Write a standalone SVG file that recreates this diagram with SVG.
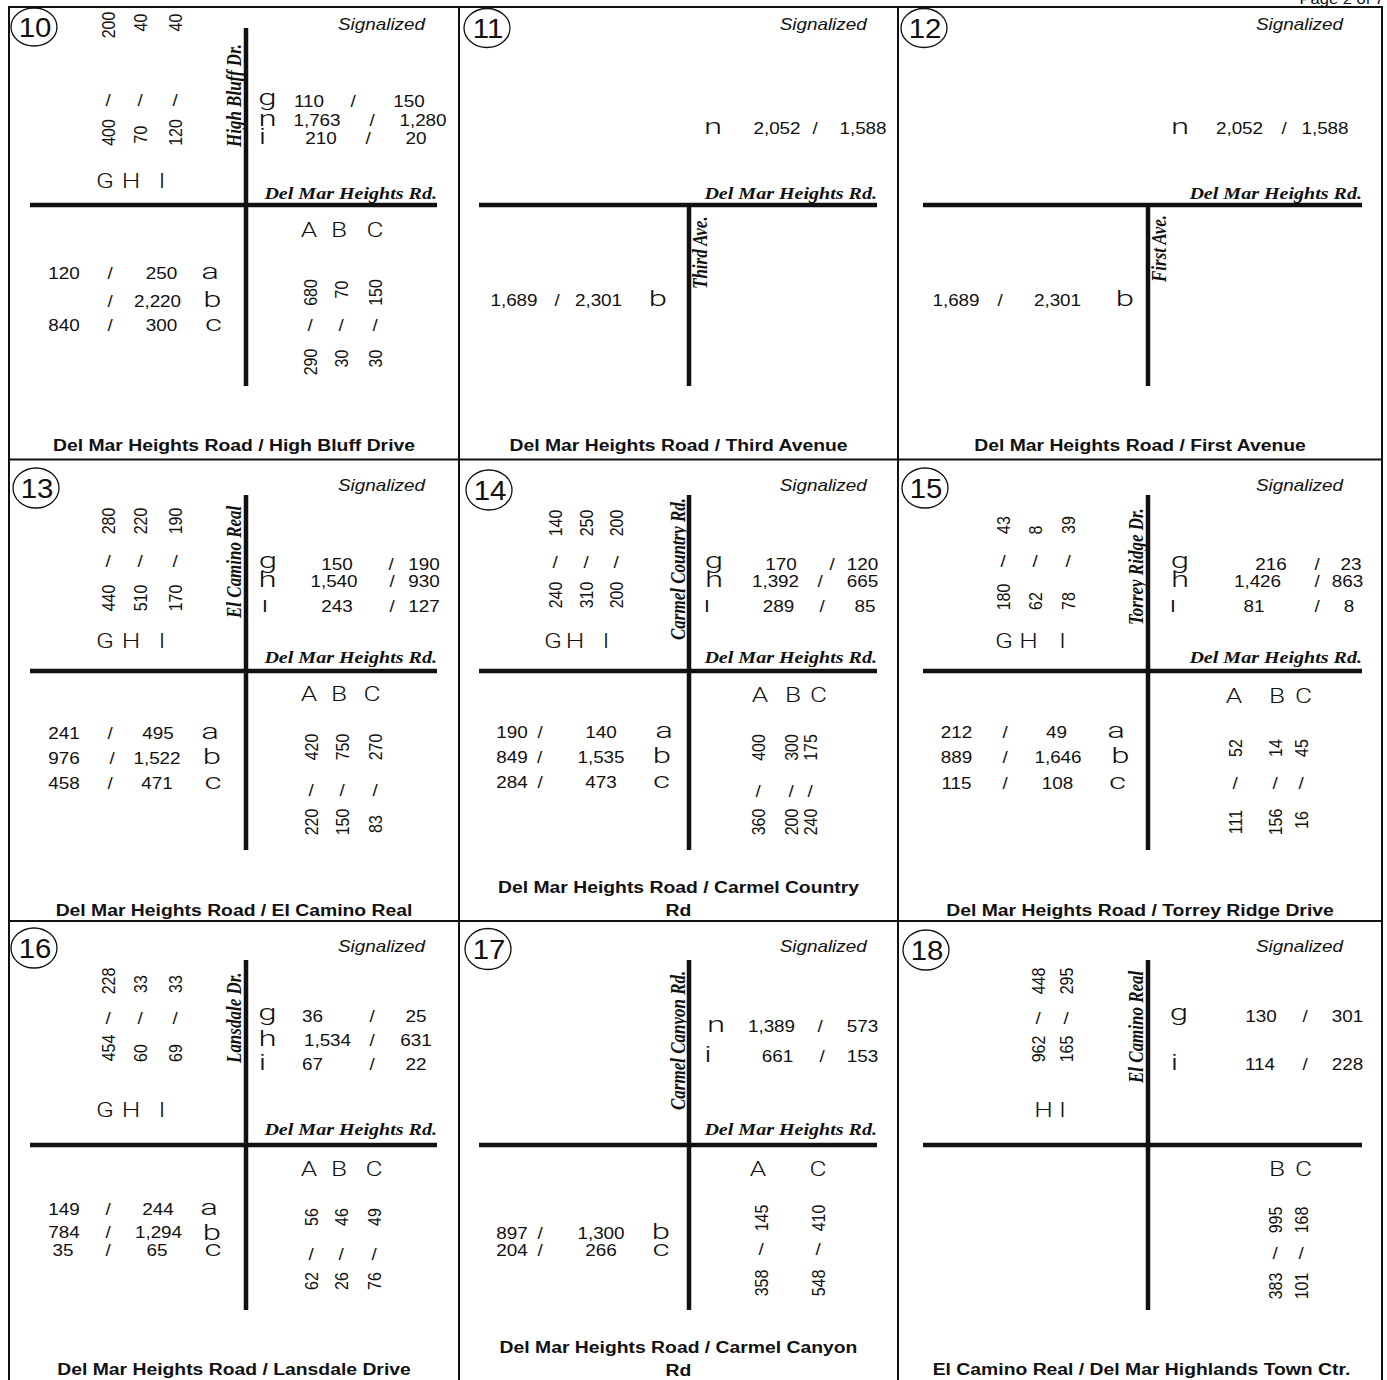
<svg xmlns="http://www.w3.org/2000/svg" width="1387" height="1380" viewBox="0 0 1387 1380">
<style>
text{fill:#111}
.n{font-family:"Liberation Sans",Arial,sans-serif;font-size:16px;text-anchor:middle}
.t{font-family:"Liberation Sans",Arial,sans-serif;font-size:16.4px;font-weight:bold;text-anchor:middle}
.s{font-family:"Liberation Sans",Arial,sans-serif;font-size:16px;font-style:italic;text-anchor:end}
.r{font-family:"Liberation Serif","Times New Roman",serif;font-size:17px;font-weight:bold;font-style:italic}
.re{text-anchor:end}
.C{font-family:Roboto,"Liberation Sans",sans-serif;font-weight:300;font-size:21px;text-anchor:middle}
.l{font-family:Roboto,"Liberation Sans",sans-serif;font-weight:300;font-size:22px;text-anchor:middle}
.id{font-family:"Liberation Sans",Arial,sans-serif;font-size:28px;text-anchor:middle}
.ring{fill:none;stroke:#111;stroke-width:1.3}
.road{stroke:#111;stroke-width:4.5;fill:none}
.frame{stroke:#111;stroke-width:2;fill:none}
</style>
<defs>
<clipPath id="clip18"><rect x="1150" y="1110" width="230" height="40"/></clipPath>
</defs>

<g id="frame">
<rect class="frame" x="9" y="7" width="1373" height="1380"/>
<line class="frame" x1="459" y1="7" x2="459" y2="1380"/>
<line class="frame" x1="898" y1="7" x2="898" y2="1380"/>
<line class="frame" x1="9" y1="459.5" x2="1382" y2="459.5"/>
<line class="frame" x1="9" y1="921" x2="1382" y2="921"/>
<text class="n" style="font-size:14px;text-anchor:end" transform="translate(1384 4) scale(1.18 1)">Page 2 of 7</text>
</g>

<!-- Panel 10 -->
<g id="p10">
<ellipse class="ring" cx="34" cy="27" rx="23" ry="19"/>
<text class="id" transform="translate(35 37) scale(1.05 1)">10</text>
<text class="s" transform="translate(425 30) scale(1.18 1)">Signalized</text>
<line class="road" x1="30" y1="205" x2="437" y2="205"/>
<line class="road" x1="246" y1="28" x2="246" y2="386"/>
<text class="r" transform="translate(241 147) scale(1.18 1) rotate(-90)">High Bluff Dr.</text>
<text class="r re" transform="translate(437 199) scale(1.18 1)">Del Mar Heights Rd.</text>
<text class="n" transform="translate(115 25) scale(1.18 1) rotate(-90)">200</text>
<text class="n" transform="translate(108 106) scale(1.18 1)">/</text>
<text class="n" transform="translate(115 132.5) scale(1.18 1) rotate(-90)">400</text>
<text class="n" transform="translate(147 22.5) scale(1.18 1) rotate(-90)">40</text>
<text class="n" transform="translate(140 106) scale(1.18 1)">/</text>
<text class="n" transform="translate(147 134.5) scale(1.18 1) rotate(-90)">70</text>
<text class="n" transform="translate(182 22.5) scale(1.18 1) rotate(-90)">40</text>
<text class="n" transform="translate(175 106) scale(1.18 1)">/</text>
<text class="n" transform="translate(182 132.5) scale(1.18 1) rotate(-90)">120</text>
<text class="C" transform="translate(105 188) scale(1.25 1)">G</text>
<text class="C" transform="translate(131 188) scale(1.25 1)">H</text>
<text class="C" transform="translate(162 188) scale(1.25 1)">I</text>
<text class="l" transform="translate(267.5 105) scale(1.5 1)">g</text>
<text class="n" transform="translate(309 107) scale(1.18 1)">110</text>
<text class="n" transform="translate(353 107) scale(1.18 1)">/</text>
<text class="n" transform="translate(409 107) scale(1.18 1)">150</text>
<text class="l" transform="translate(267.5 126) scale(1.5 1)">n</text>
<text class="n" transform="translate(317 126) scale(1.18 1)">1,763</text>
<text class="n" transform="translate(372 126) scale(1.18 1)">/</text>
<text class="n" transform="translate(423 126) scale(1.18 1)">1,280</text>
<text class="l" transform="translate(262.5 144) scale(1.5 1)">i</text>
<text class="n" transform="translate(321 144) scale(1.18 1)">210</text>
<text class="n" transform="translate(368 144) scale(1.18 1)">/</text>
<text class="n" transform="translate(416 144) scale(1.18 1)">20</text>
<text class="n" transform="translate(64 279) scale(1.18 1)">120</text>
<text class="n" transform="translate(110 279) scale(1.18 1)">/</text>
<text class="n" transform="translate(161.5 279) scale(1.18 1)">250</text>
<text class="l" transform="translate(210 279) scale(1.5 1)">a</text>
<text class="n" transform="translate(110 307) scale(1.18 1)">/</text>
<text class="n" transform="translate(157.5 307) scale(1.18 1)">2,220</text>
<text class="l" transform="translate(212.5 307) scale(1.5 1)">b</text>
<text class="n" transform="translate(64 331) scale(1.18 1)">840</text>
<text class="n" transform="translate(110 331) scale(1.18 1)">/</text>
<text class="n" transform="translate(161.5 331) scale(1.18 1)">300</text>
<text class="l" transform="translate(213.5 331) scale(1.5 1)">c</text>
<text class="C" transform="translate(309 237) scale(1.25 1)">A</text>
<text class="C" transform="translate(339 237) scale(1.25 1)">B</text>
<text class="C" transform="translate(375 237) scale(1.25 1)">C</text>
<text class="n" transform="translate(317 292.5) scale(1.18 1) rotate(-90)">680</text>
<text class="n" transform="translate(310 331) scale(1.18 1)">/</text>
<text class="n" transform="translate(317 362) scale(1.18 1) rotate(-90)">290</text>
<text class="n" transform="translate(348 289.5) scale(1.18 1) rotate(-90)">70</text>
<text class="n" transform="translate(341 331) scale(1.18 1)">/</text>
<text class="n" transform="translate(348 358.5) scale(1.18 1) rotate(-90)">30</text>
<text class="n" transform="translate(382 292.5) scale(1.18 1) rotate(-90)">150</text>
<text class="n" transform="translate(375 331) scale(1.18 1)">/</text>
<text class="n" transform="translate(382 358.5) scale(1.18 1) rotate(-90)">30</text>
<text class="t" transform="translate(234 451) scale(1.18 1)">Del Mar Heights Road / High Bluff Drive</text>
</g>

<!-- Panel 11 -->
<g id="p11">
<ellipse class="ring" cx="487" cy="28" rx="23" ry="19.5"/>
<text class="id" transform="translate(488 38) scale(1.05 1)">11</text>
<text class="s" transform="translate(866.7 30) scale(1.18 1)">Signalized</text>
<line class="road" x1="479" y1="205" x2="877" y2="205"/>
<line class="road" x1="689" y1="205" x2="689" y2="386"/>
<text class="r" transform="translate(707 289) scale(1.18 1) rotate(-90)">Third Ave.</text>
<text class="r re" transform="translate(877 199) scale(1.18 1)">Del Mar Heights Rd.</text>
<text class="l" transform="translate(713 134) scale(1.5 1)">n</text>
<text class="n" transform="translate(777 134) scale(1.18 1)">2,052</text>
<text class="n" transform="translate(815 134) scale(1.18 1)">/</text>
<text class="n" transform="translate(863 134) scale(1.18 1)">1,588</text>
<text class="n" transform="translate(514 306) scale(1.18 1)">1,689</text>
<text class="n" transform="translate(557 306) scale(1.18 1)">/</text>
<text class="n" transform="translate(598.5 306) scale(1.18 1)">2,301</text>
<text class="l" transform="translate(658 306) scale(1.5 1)">b</text>
<text class="t" transform="translate(678.5 451) scale(1.18 1)">Del Mar Heights Road / Third Avenue</text>
</g>

<!-- Panel 12 -->
<g id="p12">
<ellipse class="ring" cx="924" cy="28" rx="23" ry="19.5"/>
<text class="id" transform="translate(925 38) scale(1.05 1)">12</text>
<text class="s" transform="translate(1343 30) scale(1.18 1)">Signalized</text>
<line class="road" x1="923" y1="205" x2="1362" y2="205"/>
<line class="road" x1="1148" y1="205" x2="1148" y2="386"/>
<text class="r" transform="translate(1166 282) scale(1.18 1) rotate(-90)">First Ave.</text>
<text class="r re" transform="translate(1362 199) scale(1.18 1)">Del Mar Heights Rd.</text>
<text class="l" transform="translate(1180 134) scale(1.5 1)">n</text>
<text class="n" transform="translate(1239.5 134) scale(1.18 1)">2,052</text>
<text class="n" transform="translate(1284 134) scale(1.18 1)">/</text>
<text class="n" transform="translate(1325 134) scale(1.18 1)">1,588</text>
<text class="n" transform="translate(956 306) scale(1.18 1)">1,689</text>
<text class="n" transform="translate(1000 306) scale(1.18 1)">/</text>
<text class="n" transform="translate(1057.5 306) scale(1.18 1)">2,301</text>
<text class="l" transform="translate(1125 306) scale(1.5 1)">b</text>
<text class="t" transform="translate(1140 451) scale(1.18 1)">Del Mar Heights Road / First Avenue</text>
</g>

<!-- Panel 13 -->
<g id="p13">
<ellipse class="ring" cx="36" cy="488" rx="23" ry="20"/>
<text class="id" transform="translate(37 498) scale(1.05 1)">13</text>
<text class="s" transform="translate(425 491) scale(1.18 1)">Signalized</text>
<line class="road" x1="30" y1="671" x2="437" y2="671"/>
<line class="road" x1="246" y1="495" x2="246" y2="850"/>
<text class="r" transform="translate(241 618) scale(1.18 1) rotate(-90)">El Camino Real</text>
<text class="r re" transform="translate(437 663) scale(1.18 1)">Del Mar Heights Rd.</text>
<text class="n" transform="translate(115 521) scale(1.18 1) rotate(-90)">280</text>
<text class="n" transform="translate(108 567) scale(1.18 1)">/</text>
<text class="n" transform="translate(115 598) scale(1.18 1) rotate(-90)">440</text>
<text class="n" transform="translate(147 521) scale(1.18 1) rotate(-90)">220</text>
<text class="n" transform="translate(140 567) scale(1.18 1)">/</text>
<text class="n" transform="translate(147 598) scale(1.18 1) rotate(-90)">510</text>
<text class="n" transform="translate(182 521) scale(1.18 1) rotate(-90)">190</text>
<text class="n" transform="translate(175 567) scale(1.18 1)">/</text>
<text class="n" transform="translate(182 598) scale(1.18 1) rotate(-90)">170</text>
<text class="C" transform="translate(105 648) scale(1.25 1)">G</text>
<text class="C" transform="translate(131 648) scale(1.25 1)">H</text>
<text class="C" transform="translate(162 648) scale(1.25 1)">I</text>
<text class="l" transform="translate(268 568) scale(1.5 1)">g</text>
<text class="n" transform="translate(337 570) scale(1.18 1)">150</text>
<text class="n" transform="translate(391 570) scale(1.18 1)">/</text>
<text class="n" transform="translate(424 570) scale(1.18 1)">190</text>
<text class="l" transform="translate(267.5 587) scale(1.5 1)">h</text>
<text class="n" transform="translate(334 587) scale(1.18 1)">1,540</text>
<text class="n" transform="translate(392 587) scale(1.18 1)">/</text>
<text class="n" transform="translate(424 587) scale(1.18 1)">930</text>
<text class="l" transform="translate(265 612) scale(1.5 1)">ı</text>
<text class="n" transform="translate(337 612) scale(1.18 1)">243</text>
<text class="n" transform="translate(392 612) scale(1.18 1)">/</text>
<text class="n" transform="translate(424 612) scale(1.18 1)">127</text>
<text class="n" transform="translate(64 739) scale(1.18 1)">241</text>
<text class="n" transform="translate(110 739) scale(1.18 1)">/</text>
<text class="n" transform="translate(158 739) scale(1.18 1)">495</text>
<text class="l" transform="translate(210 739) scale(1.5 1)">a</text>
<text class="n" transform="translate(64 764) scale(1.18 1)">976</text>
<text class="n" transform="translate(112 764) scale(1.18 1)">/</text>
<text class="n" transform="translate(157 764) scale(1.18 1)">1,522</text>
<text class="l" transform="translate(212 764) scale(1.5 1)">b</text>
<text class="n" transform="translate(64 789) scale(1.18 1)">458</text>
<text class="n" transform="translate(110 789) scale(1.18 1)">/</text>
<text class="n" transform="translate(157 789) scale(1.18 1)">471</text>
<text class="l" transform="translate(213 789) scale(1.5 1)">c</text>
<text class="C" transform="translate(309 701) scale(1.25 1)">A</text>
<text class="C" transform="translate(339 701) scale(1.25 1)">B</text>
<text class="C" transform="translate(372 701) scale(1.25 1)">C</text>
<text class="n" transform="translate(318 747) scale(1.18 1) rotate(-90)">420</text>
<text class="n" transform="translate(311 796) scale(1.18 1)">/</text>
<text class="n" transform="translate(318 822) scale(1.18 1) rotate(-90)">220</text>
<text class="n" transform="translate(349 747) scale(1.18 1) rotate(-90)">750</text>
<text class="n" transform="translate(342 796) scale(1.18 1)">/</text>
<text class="n" transform="translate(349 822) scale(1.18 1) rotate(-90)">150</text>
<text class="n" transform="translate(382 747) scale(1.18 1) rotate(-90)">270</text>
<text class="n" transform="translate(375 796) scale(1.18 1)">/</text>
<text class="n" transform="translate(382 824) scale(1.18 1) rotate(-90)">83</text>
<text class="t" transform="translate(234 916) scale(1.18 1)">Del Mar Heights Road / El Camino Real</text>
</g>

<!-- Panel 14 -->
<g id="p14">
<ellipse class="ring" cx="489" cy="490" rx="23" ry="20"/>
<text class="id" transform="translate(490 500) scale(1.05 1)">14</text>
<text class="s" transform="translate(866.7 491) scale(1.18 1)">Signalized</text>
<line class="road" x1="479" y1="671" x2="877" y2="671"/>
<line class="road" x1="689" y1="495" x2="689" y2="850"/>
<text class="r" transform="translate(685 640) scale(1.18 1) rotate(-90)">Carmel Country Rd.</text>
<text class="r re" transform="translate(877 663) scale(1.18 1)">Del Mar Heights Rd.</text>
<text class="n" transform="translate(562 523) scale(1.18 1) rotate(-90)">140</text>
<text class="n" transform="translate(555 567.5) scale(1.18 1)">/</text>
<text class="n" transform="translate(562 595) scale(1.18 1) rotate(-90)">240</text>
<text class="n" transform="translate(593 523) scale(1.18 1) rotate(-90)">250</text>
<text class="n" transform="translate(586 567.5) scale(1.18 1)">/</text>
<text class="n" transform="translate(593 595) scale(1.18 1) rotate(-90)">310</text>
<text class="n" transform="translate(623 523) scale(1.18 1) rotate(-90)">200</text>
<text class="n" transform="translate(616 567.5) scale(1.18 1)">/</text>
<text class="n" transform="translate(623 595) scale(1.18 1) rotate(-90)">200</text>
<text class="C" transform="translate(553 648) scale(1.25 1)">G</text>
<text class="C" transform="translate(575 648) scale(1.25 1)">H</text>
<text class="C" transform="translate(606 648) scale(1.25 1)">I</text>
<text class="l" transform="translate(714 568) scale(1.5 1)">g</text>
<text class="n" transform="translate(781 570) scale(1.18 1)">170</text>
<text class="n" transform="translate(832 570) scale(1.18 1)">/</text>
<text class="n" transform="translate(862.5 570) scale(1.18 1)">120</text>
<text class="l" transform="translate(714 587) scale(1.5 1)">h</text>
<text class="n" transform="translate(775.5 587) scale(1.18 1)">1,392</text>
<text class="n" transform="translate(820 587) scale(1.18 1)">/</text>
<text class="n" transform="translate(862.5 587) scale(1.18 1)">665</text>
<text class="l" transform="translate(707 612) scale(1.5 1)">ı</text>
<text class="n" transform="translate(778.5 612) scale(1.18 1)">289</text>
<text class="n" transform="translate(822 612) scale(1.18 1)">/</text>
<text class="n" transform="translate(865 612) scale(1.18 1)">85</text>
<text class="n" transform="translate(512 738) scale(1.18 1)">190</text>
<text class="n" transform="translate(540 738) scale(1.18 1)">/</text>
<text class="n" transform="translate(601 738) scale(1.18 1)">140</text>
<text class="l" transform="translate(664 738) scale(1.5 1)">a</text>
<text class="n" transform="translate(512 763) scale(1.18 1)">849</text>
<text class="n" transform="translate(539.5 763) scale(1.18 1)">/</text>
<text class="n" transform="translate(601 763) scale(1.18 1)">1,535</text>
<text class="l" transform="translate(662 763) scale(1.5 1)">b</text>
<text class="n" transform="translate(512 788) scale(1.18 1)">284</text>
<text class="n" transform="translate(540 788) scale(1.18 1)">/</text>
<text class="n" transform="translate(601 788) scale(1.18 1)">473</text>
<text class="l" transform="translate(661.5 788) scale(1.5 1)">c</text>
<text class="C" transform="translate(760 702) scale(1.25 1)">A</text>
<text class="C" transform="translate(793 702) scale(1.25 1)">B</text>
<text class="C" transform="translate(818.5 702) scale(1.25 1)">C</text>
<text class="n" transform="translate(765 747.5) scale(1.18 1) rotate(-90)">400</text>
<text class="n" transform="translate(758 796.5) scale(1.18 1)">/</text>
<text class="n" transform="translate(765 822) scale(1.18 1) rotate(-90)">360</text>
<text class="n" transform="translate(798 747.5) scale(1.18 1) rotate(-90)">300</text>
<text class="n" transform="translate(791 796.5) scale(1.18 1)">/</text>
<text class="n" transform="translate(798 822) scale(1.18 1) rotate(-90)">200</text>
<text class="n" transform="translate(817 747.5) scale(1.18 1) rotate(-90)">175</text>
<text class="n" transform="translate(810 796.5) scale(1.18 1)">/</text>
<text class="n" transform="translate(817 822) scale(1.18 1) rotate(-90)">240</text>
<text class="t" transform="translate(678.5 893) scale(1.18 1)">Del Mar Heights Road / Carmel Country</text>
<text class="t" transform="translate(678.5 916) scale(1.18 1)">Rd</text>
</g>

<!-- Panel 15 -->
<g id="p15">
<ellipse class="ring" cx="925" cy="488" rx="23" ry="20"/>
<text class="id" transform="translate(926 498) scale(1.05 1)">15</text>
<text class="s" transform="translate(1343 491) scale(1.18 1)">Signalized</text>
<line class="road" x1="923" y1="671" x2="1362" y2="671"/>
<line class="road" x1="1148" y1="495" x2="1148" y2="850"/>
<text class="r" transform="translate(1143 625) scale(1.18 1) rotate(-90)">Torrey Ridge Dr.</text>
<text class="r re" transform="translate(1362 663) scale(1.18 1)">Del Mar Heights Rd.</text>
<text class="n" transform="translate(1010 525) scale(1.18 1) rotate(-90)">43</text>
<text class="n" transform="translate(1003 567) scale(1.18 1)">/</text>
<text class="n" transform="translate(1010 597) scale(1.18 1) rotate(-90)">180</text>
<text class="n" transform="translate(1042 530) scale(1.18 1) rotate(-90)">8</text>
<text class="n" transform="translate(1035 567) scale(1.18 1)">/</text>
<text class="n" transform="translate(1042 601) scale(1.18 1) rotate(-90)">62</text>
<text class="n" transform="translate(1075 525) scale(1.18 1) rotate(-90)">39</text>
<text class="n" transform="translate(1068 567) scale(1.18 1)">/</text>
<text class="n" transform="translate(1075 601) scale(1.18 1) rotate(-90)">78</text>
<text class="C" transform="translate(1004 648) scale(1.25 1)">G</text>
<text class="C" transform="translate(1028.5 648) scale(1.25 1)">H</text>
<text class="C" transform="translate(1062.5 648) scale(1.25 1)">I</text>
<text class="l" transform="translate(1180 568) scale(1.5 1)">g</text>
<text class="n" transform="translate(1271 570) scale(1.18 1)">216</text>
<text class="n" transform="translate(1317 570) scale(1.18 1)">/</text>
<text class="n" transform="translate(1351 570) scale(1.18 1)">23</text>
<text class="l" transform="translate(1180 587) scale(1.5 1)">h</text>
<text class="n" transform="translate(1257.5 587) scale(1.18 1)">1,426</text>
<text class="n" transform="translate(1317 587) scale(1.18 1)">/</text>
<text class="n" transform="translate(1347.5 587) scale(1.18 1)">863</text>
<text class="l" transform="translate(1173 612) scale(1.5 1)">ı</text>
<text class="n" transform="translate(1254 612) scale(1.18 1)">81</text>
<text class="n" transform="translate(1317 612) scale(1.18 1)">/</text>
<text class="n" transform="translate(1349 612) scale(1.18 1)">8</text>
<text class="n" transform="translate(956.5 738) scale(1.18 1)">212</text>
<text class="n" transform="translate(1005 738) scale(1.18 1)">/</text>
<text class="n" transform="translate(1056.5 738) scale(1.18 1)">49</text>
<text class="l" transform="translate(1116 738) scale(1.5 1)">a</text>
<text class="n" transform="translate(956.5 763) scale(1.18 1)">889</text>
<text class="n" transform="translate(1005 763) scale(1.18 1)">/</text>
<text class="n" transform="translate(1058 763) scale(1.18 1)">1,646</text>
<text class="l" transform="translate(1120.5 763) scale(1.5 1)">b</text>
<text class="n" transform="translate(956.5 789) scale(1.18 1)">115</text>
<text class="n" transform="translate(1005 789) scale(1.18 1)">/</text>
<text class="n" transform="translate(1057.5 789) scale(1.18 1)">108</text>
<text class="l" transform="translate(1117.5 789) scale(1.5 1)">c</text>
<text class="C" transform="translate(1234 703) scale(1.25 1)">A</text>
<text class="C" transform="translate(1277 703) scale(1.25 1)">B</text>
<text class="C" transform="translate(1303.5 703) scale(1.25 1)">C</text>
<text class="n" transform="translate(1242 748) scale(1.18 1) rotate(-90)">52</text>
<text class="n" transform="translate(1235 788.5) scale(1.18 1)">/</text>
<text class="n" transform="translate(1242 822) scale(1.18 1) rotate(-90)">111</text>
<text class="n" transform="translate(1282 748) scale(1.18 1) rotate(-90)">14</text>
<text class="n" transform="translate(1275 788.5) scale(1.18 1)">/</text>
<text class="n" transform="translate(1282 822) scale(1.18 1) rotate(-90)">156</text>
<text class="n" transform="translate(1308 748) scale(1.18 1) rotate(-90)">45</text>
<text class="n" transform="translate(1301 788.5) scale(1.18 1)">/</text>
<text class="n" transform="translate(1308 820) scale(1.18 1) rotate(-90)">16</text>
<text class="t" transform="translate(1140 916) scale(1.18 1)">Del Mar Heights Road / Torrey Ridge Drive</text>
</g>

<!-- Panel 16 -->
<g id="p16">
<ellipse class="ring" cx="34" cy="948" rx="23" ry="20"/>
<text class="id" transform="translate(35 958) scale(1.05 1)">16</text>
<text class="s" transform="translate(425 952) scale(1.18 1)">Signalized</text>
<line class="road" x1="30" y1="1145" x2="437" y2="1145"/>
<line class="road" x1="246" y1="960" x2="246" y2="1310"/>
<text class="r" transform="translate(241 1063) scale(1.18 1) rotate(-90)">Lansdale Dr.</text>
<text class="r re" transform="translate(437 1135) scale(1.18 1)">Del Mar Heights Rd.</text>
<text class="n" transform="translate(115 981) scale(1.18 1) rotate(-90)">228</text>
<text class="n" transform="translate(108 1024) scale(1.18 1)">/</text>
<text class="n" transform="translate(115 1048) scale(1.18 1) rotate(-90)">454</text>
<text class="n" transform="translate(147 984) scale(1.18 1) rotate(-90)">33</text>
<text class="n" transform="translate(140 1024) scale(1.18 1)">/</text>
<text class="n" transform="translate(147 1053) scale(1.18 1) rotate(-90)">60</text>
<text class="n" transform="translate(182 984) scale(1.18 1) rotate(-90)">33</text>
<text class="n" transform="translate(175 1024) scale(1.18 1)">/</text>
<text class="n" transform="translate(182 1053) scale(1.18 1) rotate(-90)">69</text>
<text class="C" transform="translate(105 1117) scale(1.25 1)">G</text>
<text class="C" transform="translate(131 1117) scale(1.25 1)">H</text>
<text class="C" transform="translate(162 1117) scale(1.25 1)">I</text>
<text class="l" transform="translate(267.5 1020) scale(1.5 1)">g</text>
<text class="n" transform="translate(312.5 1022) scale(1.18 1)">36</text>
<text class="n" transform="translate(372 1022) scale(1.18 1)">/</text>
<text class="n" transform="translate(416 1022) scale(1.18 1)">25</text>
<text class="l" transform="translate(267.5 1046) scale(1.5 1)">h</text>
<text class="n" transform="translate(327.5 1046) scale(1.18 1)">1,534</text>
<text class="n" transform="translate(372 1046) scale(1.18 1)">/</text>
<text class="n" transform="translate(416 1046) scale(1.18 1)">631</text>
<text class="l" transform="translate(262.5 1070) scale(1.5 1)">i</text>
<text class="n" transform="translate(312.5 1070) scale(1.18 1)">67</text>
<text class="n" transform="translate(372 1070) scale(1.18 1)">/</text>
<text class="n" transform="translate(416 1070) scale(1.18 1)">22</text>
<text class="n" transform="translate(64 1215) scale(1.18 1)">149</text>
<text class="n" transform="translate(108 1215) scale(1.18 1)">/</text>
<text class="n" transform="translate(158 1215) scale(1.18 1)">244</text>
<text class="l" transform="translate(209 1215) scale(1.5 1)">a</text>
<text class="n" transform="translate(64 1238) scale(1.18 1)">784</text>
<text class="n" transform="translate(108 1238) scale(1.18 1)">/</text>
<text class="n" transform="translate(158.5 1238) scale(1.18 1)">1,294</text>
<text class="l" transform="translate(212 1240) scale(1.5 1)">b</text>
<text class="n" transform="translate(63 1256) scale(1.18 1)">35</text>
<text class="n" transform="translate(108 1256) scale(1.18 1)">/</text>
<text class="n" transform="translate(157 1256) scale(1.18 1)">65</text>
<text class="l" transform="translate(213 1256) scale(1.5 1)">c</text>
<text class="C" transform="translate(309 1176) scale(1.25 1)">A</text>
<text class="C" transform="translate(339 1176) scale(1.25 1)">B</text>
<text class="C" transform="translate(374 1176) scale(1.25 1)">C</text>
<text class="n" transform="translate(318 1217) scale(1.18 1) rotate(-90)">56</text>
<text class="n" transform="translate(311 1260) scale(1.18 1)">/</text>
<text class="n" transform="translate(318 1281) scale(1.18 1) rotate(-90)">62</text>
<text class="n" transform="translate(348 1217) scale(1.18 1) rotate(-90)">46</text>
<text class="n" transform="translate(341 1260) scale(1.18 1)">/</text>
<text class="n" transform="translate(348 1281) scale(1.18 1) rotate(-90)">26</text>
<text class="n" transform="translate(381 1217) scale(1.18 1) rotate(-90)">49</text>
<text class="n" transform="translate(374 1260) scale(1.18 1)">/</text>
<text class="n" transform="translate(381 1281) scale(1.18 1) rotate(-90)">76</text>
<text class="t" transform="translate(234 1375) scale(1.18 1)">Del Mar Heights Road / Lansdale Drive</text>
</g>

<!-- Panel 17 -->
<g id="p17">
<ellipse class="ring" cx="488" cy="949" rx="23" ry="20.5"/>
<text class="id" transform="translate(489 959) scale(1.05 1)">17</text>
<text class="s" transform="translate(866.7 952) scale(1.18 1)">Signalized</text>
<line class="road" x1="479" y1="1145" x2="877" y2="1145"/>
<line class="road" x1="689" y1="960" x2="689" y2="1310"/>
<text class="r" transform="translate(685 1110) scale(1.18 1) rotate(-90)">Carmel Canyon Rd.</text>
<text class="r re" transform="translate(877 1135) scale(1.18 1)">Del Mar Heights Rd.</text>
<text class="l" transform="translate(716 1032) scale(1.5 1)">n</text>
<text class="n" transform="translate(771.5 1032) scale(1.18 1)">1,389</text>
<text class="n" transform="translate(820 1032) scale(1.18 1)">/</text>
<text class="n" transform="translate(862.5 1032) scale(1.18 1)">573</text>
<text class="l" transform="translate(708 1062) scale(1.5 1)">i</text>
<text class="n" transform="translate(777.5 1062) scale(1.18 1)">661</text>
<text class="n" transform="translate(822 1062) scale(1.18 1)">/</text>
<text class="n" transform="translate(862.5 1062) scale(1.18 1)">153</text>
<text class="n" transform="translate(512 1239) scale(1.18 1)">897</text>
<text class="n" transform="translate(540 1239) scale(1.18 1)">/</text>
<text class="n" transform="translate(601 1239) scale(1.18 1)">1,300</text>
<text class="l" transform="translate(661 1239) scale(1.5 1)">b</text>
<text class="n" transform="translate(512 1256) scale(1.18 1)">204</text>
<text class="n" transform="translate(540 1256) scale(1.18 1)">/</text>
<text class="n" transform="translate(601 1256) scale(1.18 1)">266</text>
<text class="l" transform="translate(661 1256) scale(1.5 1)">c</text>
<text class="C" transform="translate(758 1176) scale(1.25 1)">A</text>
<text class="C" transform="translate(818 1176) scale(1.25 1)">C</text>
<text class="n" transform="translate(768 1218) scale(1.18 1) rotate(-90)">145</text>
<text class="n" transform="translate(761 1255) scale(1.18 1)">/</text>
<text class="n" transform="translate(768 1283) scale(1.18 1) rotate(-90)">358</text>
<text class="n" transform="translate(825 1218) scale(1.18 1) rotate(-90)">410</text>
<text class="n" transform="translate(818 1255) scale(1.18 1)">/</text>
<text class="n" transform="translate(825 1283) scale(1.18 1) rotate(-90)">548</text>
<text class="t" transform="translate(678.5 1353) scale(1.18 1)">Del Mar Heights Road / Carmel Canyon</text>
<text class="t" transform="translate(678.5 1376) scale(1.18 1)">Rd</text>
</g>

<!-- Panel 18 -->
<g id="p18">
<ellipse class="ring" cx="926" cy="950" rx="23" ry="20"/>
<text class="id" transform="translate(927 960) scale(1.05 1)">18</text>
<text class="s" transform="translate(1343 952) scale(1.18 1)">Signalized</text>
<line class="road" x1="923" y1="1145" x2="1362" y2="1145"/>
<line class="road" x1="1148" y1="960" x2="1148" y2="1310"/>
<text class="r" transform="translate(1143 1083) scale(1.18 1) rotate(-90)">El Camino Real</text>
<text class="r re" clip-path="url(#clip18)" style="font-size:16px" transform="translate(1351 1135) scale(1.18 1)">Mar Highlands Town Ctr.</text>
<text class="n" transform="translate(1045 981) scale(1.18 1) rotate(-90)">448</text>
<text class="n" transform="translate(1038 1023.5) scale(1.18 1)">/</text>
<text class="n" transform="translate(1045 1049) scale(1.18 1) rotate(-90)">962</text>
<text class="n" transform="translate(1073 981) scale(1.18 1) rotate(-90)">295</text>
<text class="n" transform="translate(1066 1023.5) scale(1.18 1)">/</text>
<text class="n" transform="translate(1073 1049) scale(1.18 1) rotate(-90)">165</text>
<text class="C" transform="translate(1043.5 1117) scale(1.25 1)">H</text>
<text class="C" transform="translate(1062.5 1117) scale(1.25 1)">I</text>
<text class="l" transform="translate(1179 1020) scale(1.5 1)">g</text>
<text class="n" transform="translate(1261 1022) scale(1.18 1)">130</text>
<text class="n" transform="translate(1305 1022) scale(1.18 1)">/</text>
<text class="n" transform="translate(1347.5 1022) scale(1.18 1)">301</text>
<text class="l" transform="translate(1174.5 1070) scale(1.5 1)">i</text>
<text class="n" transform="translate(1260 1070) scale(1.18 1)">114</text>
<text class="n" transform="translate(1305 1070) scale(1.18 1)">/</text>
<text class="n" transform="translate(1347.5 1070) scale(1.18 1)">228</text>
<text class="C" transform="translate(1277 1176) scale(1.25 1)">B</text>
<text class="C" transform="translate(1303.5 1176) scale(1.25 1)">C</text>
<text class="n" transform="translate(1282 1220) scale(1.18 1) rotate(-90)">995</text>
<text class="n" transform="translate(1275 1259) scale(1.18 1)">/</text>
<text class="n" transform="translate(1282 1286) scale(1.18 1) rotate(-90)">383</text>
<text class="n" transform="translate(1308 1220) scale(1.18 1) rotate(-90)">168</text>
<text class="n" transform="translate(1301 1259) scale(1.18 1)">/</text>
<text class="n" transform="translate(1308 1286) scale(1.18 1) rotate(-90)">101</text>
<text class="t" transform="translate(1141.5 1375) scale(1.18 1)">El Camino Real / Del Mar Highlands Town Ctr.</text>
</g>
</svg>
